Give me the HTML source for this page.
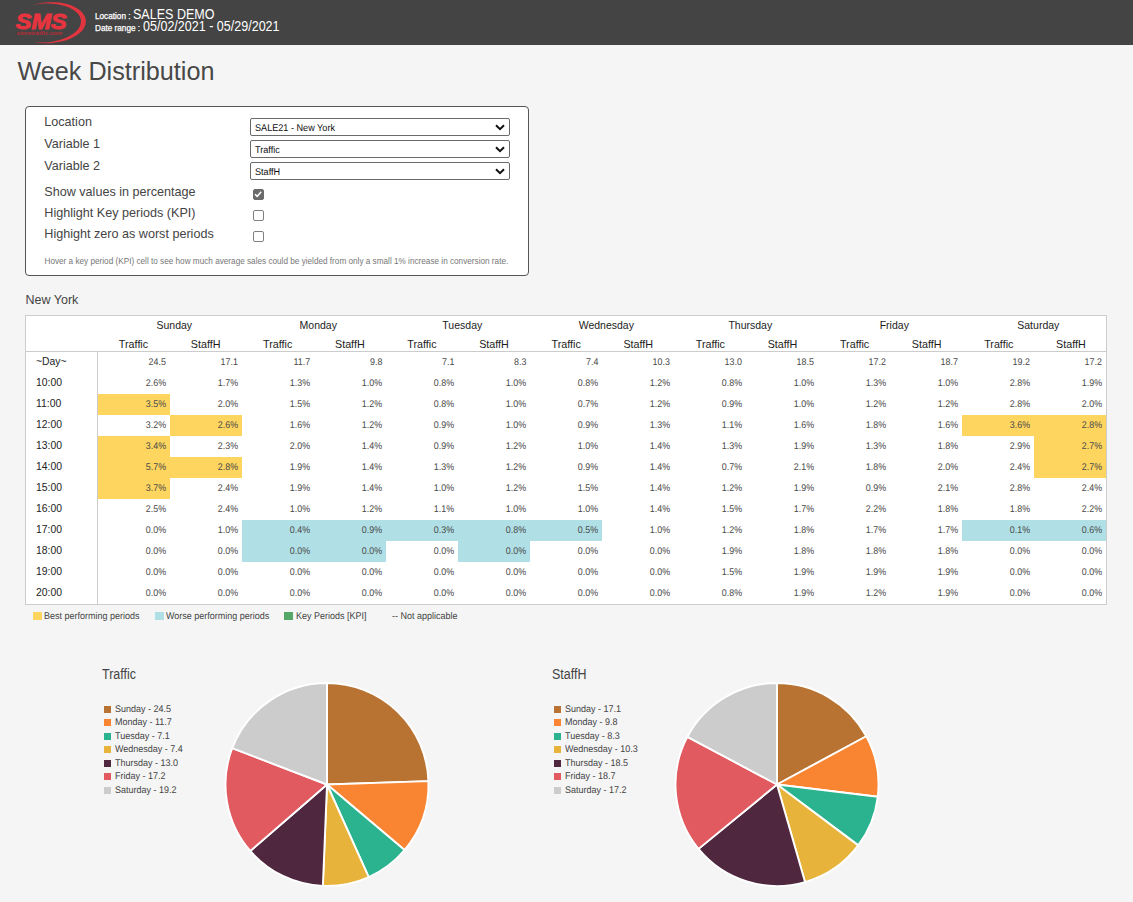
<!DOCTYPE html>
<html>
<head>
<meta charset="utf-8">
<title>Week Distribution</title>
<style>
html,body{margin:0;padding:0;}
body{width:1133px;height:902px;overflow:hidden;background:#f5f5f5;font-family:"Liberation Sans",sans-serif;position:relative;color:#444;}
div{position:absolute;box-sizing:border-box;white-space:nowrap;}
.hdr{left:0;top:0;width:1133px;height:45px;background:#444444;}
.hs{color:#fff;font-size:8.2px;-webkit-text-stroke:0.25px #fff;}
.hb{color:#fff;font-size:14px;line-height:15px;transform:scaleX(0.895);transform-origin:0 0;}
.title{left:17.5px;top:56px;font-size:25.2px;line-height:30px;color:#484848;}
.box{left:25px;top:106px;width:504px;height:170px;border:1px solid #555;border-radius:4px;background:#fff;}
.lab{left:44.3px;font-size:12.6px;color:#444;line-height:16px;}
.sel{left:250px;width:260px;height:18px;border:1px solid #6a6a6a;border-radius:2px;background:#fff;font-size:9.8px;color:#111;line-height:16px;padding-left:4.4px;padding-top:2px;text-rendering:geometricPrecision;}
.sel span{display:inline-block;transform:scaleX(0.93);transform-origin:0 50%;}
.sel svg{position:absolute;right:4px;top:4.6px;}
.cb{left:253px;width:10.5px;height:10.5px;border:1px solid #808080;border-radius:2px;background:#fff;}
.cb.on{background:#6b6b6b;border-color:#6b6b6b;}
.hint{left:44.5px;top:256.5px;font-size:8.2px;color:#777;line-height:9px;}
.ny{left:25.5px;top:292.5px;font-size:12.5px;color:#444;line-height:14px;}
.tbl{border:1px solid #ccc;background:#fff;}
.dh{text-align:center;font-size:10.5px;color:#1c1c1c;}
.vh{text-align:center;font-size:10.75px;color:#1c1c1c;}
.hl{height:1px;background:#ccc;}
.vl{width:1px;background:#ccc;}
.rl{padding-left:10px;font-size:10.4px;color:#222;}
.cv{text-align:right;padding-right:4px;font-size:9.7px;color:#4a4a4a;text-rendering:geometricPrecision;}
.cv span{display:inline-block;transform:scaleX(0.918);transform-origin:100% 50%;}
.tl{top:612.2px;font-size:9.7px;color:#444;line-height:10px;text-rendering:geometricPrecision;transform:scaleX(0.928);transform-origin:0 0;}
.tsq{top:612px;width:8.8px;height:8px;margin-left:-0.3px;}
.ct{top:666px;font-size:14px;color:#444;line-height:16px;transform:scaleX(0.89);transform-origin:0 0;}
.lsq{width:7px;height:7px;}
.ltx{font-size:9.7px;color:#444;line-height:14px;text-rendering:geometricPrecision;transform:scaleX(0.928);transform-origin:0 0;}
</style>
</head>
<body>
<div class="hdr"></div>
<svg style="position:absolute;left:0;top:0" width="100" height="46" viewBox="0 0 100 46">
  <g transform="rotate(-3 49 22.7)">
  <path d="M33 4.2A37 20.5 0 1 1 33 41.2A36.5 19.5 0 1 0 33 4.2Z" fill="#e23540"/>
  </g>
  <text x="15.8" y="29.4" font-family="Liberation Sans, sans-serif" font-weight="bold" font-style="italic" font-size="21.8" fill="#e8343f" stroke="#e8343f" stroke-width="0.9" textLength="51" lengthAdjust="spacingAndGlyphs">SMS</text>
  <text x="16.5" y="35.3" font-family="Liberation Sans, sans-serif" font-weight="bold" font-style="italic" font-size="5.6" fill="#b52c36" textLength="46" lengthAdjust="spacingAndGlyphs">storetraffic.com</text>
</svg>
<div class="hs" style="left:95px;top:12.3px;">Location :</div>
<div class="hb" style="left:133px;top:7.4px;">SALES DEMO</div>
<div class="hs" style="left:95px;top:24.3px;">Date range :</div>
<div class="hb" style="left:143px;top:18.9px;">05/02/2021 - 05/29/2021</div>

<div class="title">Week Distribution</div>

<div class="box"></div>
<div class="lab" style="top:114px">Location</div>
<div class="lab" style="top:136px">Variable 1</div>
<div class="lab" style="top:157.5px">Variable 2</div>
<div class="lab" style="top:184px">Show values in percentage</div>
<div class="lab" style="top:205px">Highlight Key periods (KPI)</div>
<div class="lab" style="top:226px">Highight zero as worst periods</div>
<div class="sel" style="top:118px"><span>SALE21 - New York</span><svg width="10" height="7" viewBox="0 0 10 7"><path d="M1 1.2L5 5.2L9 1.2" fill="none" stroke="#111" stroke-width="2"/></svg></div>
<div class="sel" style="top:140px"><span>Traffic</span><svg width="10" height="7" viewBox="0 0 10 7"><path d="M1 1.2L5 5.2L9 1.2" fill="none" stroke="#111" stroke-width="2"/></svg></div>
<div class="sel" style="top:162px"><span>StaffH</span><svg width="10" height="7" viewBox="0 0 10 7"><path d="M1 1.2L5 5.2L9 1.2" fill="none" stroke="#111" stroke-width="2"/></svg></div>
<div class="cb on" style="top:189px"><svg width="10" height="10" viewBox="0 0 10 10" style="position:absolute;left:-1px;top:-1px"><path d="M2 5.2L4.2 7.4L8.2 2.8" fill="none" stroke="#fff" stroke-width="1.6"/></svg></div>
<div class="cb" style="top:210px"></div>
<div class="cb" style="top:231px"></div>
<div class="hint">Hover a key period (KPI) cell to see how much average sales could be yielded from only a small 1% increase in conversion rate.</div>

<div class="ny">New York</div>
<div class="tbl" style="left:25px;top:315px;width:1082.00px;height:290px"></div>
<div class="dh" style="left:102.30px;top:316px;width:144.00px;height:19px;line-height:19px">Sunday</div>
<div class="vh" style="left:97.50px;top:336.3px;width:72.00px;height:16px;line-height:16px">Traffic</div>
<div class="vh" style="left:169.61px;top:336.3px;width:72.00px;height:16px;line-height:16px">StaffH</div>
<div class="dh" style="left:246.30px;top:316px;width:144.00px;height:19px;line-height:19px">Monday</div>
<div class="vh" style="left:241.72px;top:336.3px;width:72.00px;height:16px;line-height:16px">Traffic</div>
<div class="vh" style="left:313.82px;top:336.3px;width:72.00px;height:16px;line-height:16px">StaffH</div>
<div class="dh" style="left:390.30px;top:316px;width:144.00px;height:19px;line-height:19px">Tuesday</div>
<div class="vh" style="left:385.93px;top:336.3px;width:72.00px;height:16px;line-height:16px">Traffic</div>
<div class="vh" style="left:458.04px;top:336.3px;width:72.00px;height:16px;line-height:16px">StaffH</div>
<div class="dh" style="left:534.30px;top:316px;width:144.00px;height:19px;line-height:19px">Wednesday</div>
<div class="vh" style="left:530.15px;top:336.3px;width:72.00px;height:16px;line-height:16px">Traffic</div>
<div class="vh" style="left:602.25px;top:336.3px;width:72.00px;height:16px;line-height:16px">StaffH</div>
<div class="dh" style="left:678.30px;top:316px;width:144.00px;height:19px;line-height:19px">Thursday</div>
<div class="vh" style="left:674.36px;top:336.3px;width:72.00px;height:16px;line-height:16px">Traffic</div>
<div class="vh" style="left:746.47px;top:336.3px;width:72.00px;height:16px;line-height:16px">StaffH</div>
<div class="dh" style="left:822.30px;top:316px;width:144.00px;height:19px;line-height:19px">Friday</div>
<div class="vh" style="left:818.58px;top:336.3px;width:72.00px;height:16px;line-height:16px">Traffic</div>
<div class="vh" style="left:890.68px;top:336.3px;width:72.00px;height:16px;line-height:16px">StaffH</div>
<div class="dh" style="left:966.30px;top:316px;width:144.00px;height:19px;line-height:19px">Saturday</div>
<div class="vh" style="left:962.79px;top:336.3px;width:72.00px;height:16px;line-height:16px">Traffic</div>
<div class="vh" style="left:1034.90px;top:336.3px;width:72.00px;height:16px;line-height:16px">StaffH</div>
<div class="hl" style="left:26px;top:351px;width:1080.00px"></div>
<div class="vl" style="left:97px;top:351px;height:254px"></div>
<div class="rl" style="left:26px;top:351.1px;width:71px;height:21px;line-height:21px">~Day~</div>
<div class="cv" style="left:98px;top:352px;width:72px;height:21px;line-height:21px;"><span>24.5</span></div>
<div class="cv" style="left:170px;top:352px;width:72px;height:21px;line-height:21px;"><span>17.1</span></div>
<div class="cv" style="left:242px;top:352px;width:72px;height:21px;line-height:21px;"><span>11.7</span></div>
<div class="cv" style="left:314px;top:352px;width:72px;height:21px;line-height:21px;"><span>9.8</span></div>
<div class="cv" style="left:386px;top:352px;width:72px;height:21px;line-height:21px;"><span>7.1</span></div>
<div class="cv" style="left:458px;top:352px;width:72px;height:21px;line-height:21px;"><span>8.3</span></div>
<div class="cv" style="left:530px;top:352px;width:72px;height:21px;line-height:21px;"><span>7.4</span></div>
<div class="cv" style="left:602px;top:352px;width:72px;height:21px;line-height:21px;"><span>10.3</span></div>
<div class="cv" style="left:674px;top:352px;width:72px;height:21px;line-height:21px;"><span>13.0</span></div>
<div class="cv" style="left:746px;top:352px;width:72px;height:21px;line-height:21px;"><span>18.5</span></div>
<div class="cv" style="left:818px;top:352px;width:72px;height:21px;line-height:21px;"><span>17.2</span></div>
<div class="cv" style="left:890px;top:352px;width:72px;height:21px;line-height:21px;"><span>18.7</span></div>
<div class="cv" style="left:962px;top:352px;width:72px;height:21px;line-height:21px;"><span>19.2</span></div>
<div class="cv" style="left:1034px;top:352px;width:72px;height:21px;line-height:21px;"><span>17.2</span></div>
<div class="rl" style="left:26px;top:372.1px;width:71px;height:21px;line-height:21px">10:00</div>
<div class="cv" style="left:98px;top:373px;width:72px;height:21px;line-height:21px;"><span>2.6%</span></div>
<div class="cv" style="left:170px;top:373px;width:72px;height:21px;line-height:21px;"><span>1.7%</span></div>
<div class="cv" style="left:242px;top:373px;width:72px;height:21px;line-height:21px;"><span>1.3%</span></div>
<div class="cv" style="left:314px;top:373px;width:72px;height:21px;line-height:21px;"><span>1.0%</span></div>
<div class="cv" style="left:386px;top:373px;width:72px;height:21px;line-height:21px;"><span>0.8%</span></div>
<div class="cv" style="left:458px;top:373px;width:72px;height:21px;line-height:21px;"><span>1.0%</span></div>
<div class="cv" style="left:530px;top:373px;width:72px;height:21px;line-height:21px;"><span>0.8%</span></div>
<div class="cv" style="left:602px;top:373px;width:72px;height:21px;line-height:21px;"><span>1.2%</span></div>
<div class="cv" style="left:674px;top:373px;width:72px;height:21px;line-height:21px;"><span>0.8%</span></div>
<div class="cv" style="left:746px;top:373px;width:72px;height:21px;line-height:21px;"><span>1.0%</span></div>
<div class="cv" style="left:818px;top:373px;width:72px;height:21px;line-height:21px;"><span>1.3%</span></div>
<div class="cv" style="left:890px;top:373px;width:72px;height:21px;line-height:21px;"><span>1.0%</span></div>
<div class="cv" style="left:962px;top:373px;width:72px;height:21px;line-height:21px;"><span>2.8%</span></div>
<div class="cv" style="left:1034px;top:373px;width:72px;height:21px;line-height:21px;"><span>1.9%</span></div>
<div class="rl" style="left:26px;top:393.1px;width:71px;height:21px;line-height:21px">11:00</div>
<div class="cv" style="left:98px;top:394px;width:72px;height:21px;line-height:21px;background:#fdd55f;"><span>3.5%</span></div>
<div class="cv" style="left:170px;top:394px;width:72px;height:21px;line-height:21px;"><span>2.0%</span></div>
<div class="cv" style="left:242px;top:394px;width:72px;height:21px;line-height:21px;"><span>1.5%</span></div>
<div class="cv" style="left:314px;top:394px;width:72px;height:21px;line-height:21px;"><span>1.2%</span></div>
<div class="cv" style="left:386px;top:394px;width:72px;height:21px;line-height:21px;"><span>0.8%</span></div>
<div class="cv" style="left:458px;top:394px;width:72px;height:21px;line-height:21px;"><span>1.0%</span></div>
<div class="cv" style="left:530px;top:394px;width:72px;height:21px;line-height:21px;"><span>0.7%</span></div>
<div class="cv" style="left:602px;top:394px;width:72px;height:21px;line-height:21px;"><span>1.2%</span></div>
<div class="cv" style="left:674px;top:394px;width:72px;height:21px;line-height:21px;"><span>0.9%</span></div>
<div class="cv" style="left:746px;top:394px;width:72px;height:21px;line-height:21px;"><span>1.0%</span></div>
<div class="cv" style="left:818px;top:394px;width:72px;height:21px;line-height:21px;"><span>1.2%</span></div>
<div class="cv" style="left:890px;top:394px;width:72px;height:21px;line-height:21px;"><span>1.2%</span></div>
<div class="cv" style="left:962px;top:394px;width:72px;height:21px;line-height:21px;"><span>2.8%</span></div>
<div class="cv" style="left:1034px;top:394px;width:72px;height:21px;line-height:21px;"><span>2.0%</span></div>
<div class="rl" style="left:26px;top:414.1px;width:71px;height:21px;line-height:21px">12:00</div>
<div class="cv" style="left:98px;top:415px;width:72px;height:21px;line-height:21px;"><span>3.2%</span></div>
<div class="cv" style="left:170px;top:415px;width:72px;height:21px;line-height:21px;background:#fdd55f;"><span>2.6%</span></div>
<div class="cv" style="left:242px;top:415px;width:72px;height:21px;line-height:21px;"><span>1.6%</span></div>
<div class="cv" style="left:314px;top:415px;width:72px;height:21px;line-height:21px;"><span>1.2%</span></div>
<div class="cv" style="left:386px;top:415px;width:72px;height:21px;line-height:21px;"><span>0.9%</span></div>
<div class="cv" style="left:458px;top:415px;width:72px;height:21px;line-height:21px;"><span>1.0%</span></div>
<div class="cv" style="left:530px;top:415px;width:72px;height:21px;line-height:21px;"><span>0.9%</span></div>
<div class="cv" style="left:602px;top:415px;width:72px;height:21px;line-height:21px;"><span>1.3%</span></div>
<div class="cv" style="left:674px;top:415px;width:72px;height:21px;line-height:21px;"><span>1.1%</span></div>
<div class="cv" style="left:746px;top:415px;width:72px;height:21px;line-height:21px;"><span>1.6%</span></div>
<div class="cv" style="left:818px;top:415px;width:72px;height:21px;line-height:21px;"><span>1.8%</span></div>
<div class="cv" style="left:890px;top:415px;width:72px;height:21px;line-height:21px;"><span>1.6%</span></div>
<div class="cv" style="left:962px;top:415px;width:72px;height:21px;line-height:21px;background:#fdd55f;"><span>3.6%</span></div>
<div class="cv" style="left:1034px;top:415px;width:72px;height:21px;line-height:21px;background:#fdd55f;"><span>2.8%</span></div>
<div class="rl" style="left:26px;top:435.1px;width:71px;height:21px;line-height:21px">13:00</div>
<div class="cv" style="left:98px;top:436px;width:72px;height:21px;line-height:21px;background:#fdd55f;"><span>3.4%</span></div>
<div class="cv" style="left:170px;top:436px;width:72px;height:21px;line-height:21px;"><span>2.3%</span></div>
<div class="cv" style="left:242px;top:436px;width:72px;height:21px;line-height:21px;"><span>2.0%</span></div>
<div class="cv" style="left:314px;top:436px;width:72px;height:21px;line-height:21px;"><span>1.4%</span></div>
<div class="cv" style="left:386px;top:436px;width:72px;height:21px;line-height:21px;"><span>0.9%</span></div>
<div class="cv" style="left:458px;top:436px;width:72px;height:21px;line-height:21px;"><span>1.2%</span></div>
<div class="cv" style="left:530px;top:436px;width:72px;height:21px;line-height:21px;"><span>1.0%</span></div>
<div class="cv" style="left:602px;top:436px;width:72px;height:21px;line-height:21px;"><span>1.4%</span></div>
<div class="cv" style="left:674px;top:436px;width:72px;height:21px;line-height:21px;"><span>1.3%</span></div>
<div class="cv" style="left:746px;top:436px;width:72px;height:21px;line-height:21px;"><span>1.9%</span></div>
<div class="cv" style="left:818px;top:436px;width:72px;height:21px;line-height:21px;"><span>1.3%</span></div>
<div class="cv" style="left:890px;top:436px;width:72px;height:21px;line-height:21px;"><span>1.8%</span></div>
<div class="cv" style="left:962px;top:436px;width:72px;height:21px;line-height:21px;"><span>2.9%</span></div>
<div class="cv" style="left:1034px;top:436px;width:72px;height:21px;line-height:21px;background:#fdd55f;"><span>2.7%</span></div>
<div class="rl" style="left:26px;top:456.1px;width:71px;height:21px;line-height:21px">14:00</div>
<div class="cv" style="left:98px;top:457px;width:72px;height:21px;line-height:21px;background:#fdd55f;"><span>5.7%</span></div>
<div class="cv" style="left:170px;top:457px;width:72px;height:21px;line-height:21px;background:#fdd55f;"><span>2.8%</span></div>
<div class="cv" style="left:242px;top:457px;width:72px;height:21px;line-height:21px;"><span>1.9%</span></div>
<div class="cv" style="left:314px;top:457px;width:72px;height:21px;line-height:21px;"><span>1.4%</span></div>
<div class="cv" style="left:386px;top:457px;width:72px;height:21px;line-height:21px;"><span>1.3%</span></div>
<div class="cv" style="left:458px;top:457px;width:72px;height:21px;line-height:21px;"><span>1.2%</span></div>
<div class="cv" style="left:530px;top:457px;width:72px;height:21px;line-height:21px;"><span>0.9%</span></div>
<div class="cv" style="left:602px;top:457px;width:72px;height:21px;line-height:21px;"><span>1.4%</span></div>
<div class="cv" style="left:674px;top:457px;width:72px;height:21px;line-height:21px;"><span>0.7%</span></div>
<div class="cv" style="left:746px;top:457px;width:72px;height:21px;line-height:21px;"><span>2.1%</span></div>
<div class="cv" style="left:818px;top:457px;width:72px;height:21px;line-height:21px;"><span>1.8%</span></div>
<div class="cv" style="left:890px;top:457px;width:72px;height:21px;line-height:21px;"><span>2.0%</span></div>
<div class="cv" style="left:962px;top:457px;width:72px;height:21px;line-height:21px;"><span>2.4%</span></div>
<div class="cv" style="left:1034px;top:457px;width:72px;height:21px;line-height:21px;background:#fdd55f;"><span>2.7%</span></div>
<div class="rl" style="left:26px;top:477.1px;width:71px;height:21px;line-height:21px">15:00</div>
<div class="cv" style="left:98px;top:478px;width:72px;height:21px;line-height:21px;background:#fdd55f;"><span>3.7%</span></div>
<div class="cv" style="left:170px;top:478px;width:72px;height:21px;line-height:21px;"><span>2.4%</span></div>
<div class="cv" style="left:242px;top:478px;width:72px;height:21px;line-height:21px;"><span>1.9%</span></div>
<div class="cv" style="left:314px;top:478px;width:72px;height:21px;line-height:21px;"><span>1.4%</span></div>
<div class="cv" style="left:386px;top:478px;width:72px;height:21px;line-height:21px;"><span>1.0%</span></div>
<div class="cv" style="left:458px;top:478px;width:72px;height:21px;line-height:21px;"><span>1.2%</span></div>
<div class="cv" style="left:530px;top:478px;width:72px;height:21px;line-height:21px;"><span>1.5%</span></div>
<div class="cv" style="left:602px;top:478px;width:72px;height:21px;line-height:21px;"><span>1.4%</span></div>
<div class="cv" style="left:674px;top:478px;width:72px;height:21px;line-height:21px;"><span>1.2%</span></div>
<div class="cv" style="left:746px;top:478px;width:72px;height:21px;line-height:21px;"><span>1.9%</span></div>
<div class="cv" style="left:818px;top:478px;width:72px;height:21px;line-height:21px;"><span>0.9%</span></div>
<div class="cv" style="left:890px;top:478px;width:72px;height:21px;line-height:21px;"><span>2.1%</span></div>
<div class="cv" style="left:962px;top:478px;width:72px;height:21px;line-height:21px;"><span>2.8%</span></div>
<div class="cv" style="left:1034px;top:478px;width:72px;height:21px;line-height:21px;"><span>2.4%</span></div>
<div class="rl" style="left:26px;top:498.1px;width:71px;height:21px;line-height:21px">16:00</div>
<div class="cv" style="left:98px;top:499px;width:72px;height:21px;line-height:21px;"><span>2.5%</span></div>
<div class="cv" style="left:170px;top:499px;width:72px;height:21px;line-height:21px;"><span>2.4%</span></div>
<div class="cv" style="left:242px;top:499px;width:72px;height:21px;line-height:21px;"><span>1.0%</span></div>
<div class="cv" style="left:314px;top:499px;width:72px;height:21px;line-height:21px;"><span>1.2%</span></div>
<div class="cv" style="left:386px;top:499px;width:72px;height:21px;line-height:21px;"><span>1.1%</span></div>
<div class="cv" style="left:458px;top:499px;width:72px;height:21px;line-height:21px;"><span>1.0%</span></div>
<div class="cv" style="left:530px;top:499px;width:72px;height:21px;line-height:21px;"><span>1.0%</span></div>
<div class="cv" style="left:602px;top:499px;width:72px;height:21px;line-height:21px;"><span>1.4%</span></div>
<div class="cv" style="left:674px;top:499px;width:72px;height:21px;line-height:21px;"><span>1.5%</span></div>
<div class="cv" style="left:746px;top:499px;width:72px;height:21px;line-height:21px;"><span>1.7%</span></div>
<div class="cv" style="left:818px;top:499px;width:72px;height:21px;line-height:21px;"><span>2.2%</span></div>
<div class="cv" style="left:890px;top:499px;width:72px;height:21px;line-height:21px;"><span>1.8%</span></div>
<div class="cv" style="left:962px;top:499px;width:72px;height:21px;line-height:21px;"><span>1.8%</span></div>
<div class="cv" style="left:1034px;top:499px;width:72px;height:21px;line-height:21px;"><span>2.2%</span></div>
<div class="rl" style="left:26px;top:519.1px;width:71px;height:21px;line-height:21px">17:00</div>
<div class="cv" style="left:98px;top:520px;width:72px;height:21px;line-height:21px;"><span>0.0%</span></div>
<div class="cv" style="left:170px;top:520px;width:72px;height:21px;line-height:21px;"><span>1.0%</span></div>
<div class="cv" style="left:242px;top:520px;width:72px;height:21px;line-height:21px;background:#b0e0e6;"><span>0.4%</span></div>
<div class="cv" style="left:314px;top:520px;width:72px;height:21px;line-height:21px;background:#b0e0e6;"><span>0.9%</span></div>
<div class="cv" style="left:386px;top:520px;width:72px;height:21px;line-height:21px;background:#b0e0e6;"><span>0.3%</span></div>
<div class="cv" style="left:458px;top:520px;width:72px;height:21px;line-height:21px;background:#b0e0e6;"><span>0.8%</span></div>
<div class="cv" style="left:530px;top:520px;width:72px;height:21px;line-height:21px;background:#b0e0e6;"><span>0.5%</span></div>
<div class="cv" style="left:602px;top:520px;width:72px;height:21px;line-height:21px;"><span>1.0%</span></div>
<div class="cv" style="left:674px;top:520px;width:72px;height:21px;line-height:21px;"><span>1.2%</span></div>
<div class="cv" style="left:746px;top:520px;width:72px;height:21px;line-height:21px;"><span>1.8%</span></div>
<div class="cv" style="left:818px;top:520px;width:72px;height:21px;line-height:21px;"><span>1.7%</span></div>
<div class="cv" style="left:890px;top:520px;width:72px;height:21px;line-height:21px;"><span>1.7%</span></div>
<div class="cv" style="left:962px;top:520px;width:72px;height:21px;line-height:21px;background:#b0e0e6;"><span>0.1%</span></div>
<div class="cv" style="left:1034px;top:520px;width:72px;height:21px;line-height:21px;background:#b0e0e6;"><span>0.6%</span></div>
<div class="rl" style="left:26px;top:540.1px;width:71px;height:21px;line-height:21px">18:00</div>
<div class="cv" style="left:98px;top:541px;width:72px;height:21px;line-height:21px;"><span>0.0%</span></div>
<div class="cv" style="left:170px;top:541px;width:72px;height:21px;line-height:21px;"><span>0.0%</span></div>
<div class="cv" style="left:242px;top:541px;width:72px;height:21px;line-height:21px;background:#b0e0e6;"><span>0.0%</span></div>
<div class="cv" style="left:314px;top:541px;width:72px;height:21px;line-height:21px;background:#b0e0e6;"><span>0.0%</span></div>
<div class="cv" style="left:386px;top:541px;width:72px;height:21px;line-height:21px;"><span>0.0%</span></div>
<div class="cv" style="left:458px;top:541px;width:72px;height:21px;line-height:21px;background:#b0e0e6;"><span>0.0%</span></div>
<div class="cv" style="left:530px;top:541px;width:72px;height:21px;line-height:21px;"><span>0.0%</span></div>
<div class="cv" style="left:602px;top:541px;width:72px;height:21px;line-height:21px;"><span>0.0%</span></div>
<div class="cv" style="left:674px;top:541px;width:72px;height:21px;line-height:21px;"><span>1.9%</span></div>
<div class="cv" style="left:746px;top:541px;width:72px;height:21px;line-height:21px;"><span>1.8%</span></div>
<div class="cv" style="left:818px;top:541px;width:72px;height:21px;line-height:21px;"><span>1.8%</span></div>
<div class="cv" style="left:890px;top:541px;width:72px;height:21px;line-height:21px;"><span>1.8%</span></div>
<div class="cv" style="left:962px;top:541px;width:72px;height:21px;line-height:21px;"><span>0.0%</span></div>
<div class="cv" style="left:1034px;top:541px;width:72px;height:21px;line-height:21px;"><span>0.0%</span></div>
<div class="rl" style="left:26px;top:561.1px;width:71px;height:21px;line-height:21px">19:00</div>
<div class="cv" style="left:98px;top:562px;width:72px;height:21px;line-height:21px;"><span>0.0%</span></div>
<div class="cv" style="left:170px;top:562px;width:72px;height:21px;line-height:21px;"><span>0.0%</span></div>
<div class="cv" style="left:242px;top:562px;width:72px;height:21px;line-height:21px;"><span>0.0%</span></div>
<div class="cv" style="left:314px;top:562px;width:72px;height:21px;line-height:21px;"><span>0.0%</span></div>
<div class="cv" style="left:386px;top:562px;width:72px;height:21px;line-height:21px;"><span>0.0%</span></div>
<div class="cv" style="left:458px;top:562px;width:72px;height:21px;line-height:21px;"><span>0.0%</span></div>
<div class="cv" style="left:530px;top:562px;width:72px;height:21px;line-height:21px;"><span>0.0%</span></div>
<div class="cv" style="left:602px;top:562px;width:72px;height:21px;line-height:21px;"><span>0.0%</span></div>
<div class="cv" style="left:674px;top:562px;width:72px;height:21px;line-height:21px;"><span>1.5%</span></div>
<div class="cv" style="left:746px;top:562px;width:72px;height:21px;line-height:21px;"><span>1.9%</span></div>
<div class="cv" style="left:818px;top:562px;width:72px;height:21px;line-height:21px;"><span>1.9%</span></div>
<div class="cv" style="left:890px;top:562px;width:72px;height:21px;line-height:21px;"><span>1.9%</span></div>
<div class="cv" style="left:962px;top:562px;width:72px;height:21px;line-height:21px;"><span>0.0%</span></div>
<div class="cv" style="left:1034px;top:562px;width:72px;height:21px;line-height:21px;"><span>0.0%</span></div>
<div class="rl" style="left:26px;top:582.1px;width:71px;height:21px;line-height:21px">20:00</div>
<div class="cv" style="left:98px;top:583px;width:72px;height:21px;line-height:21px;"><span>0.0%</span></div>
<div class="cv" style="left:170px;top:583px;width:72px;height:21px;line-height:21px;"><span>0.0%</span></div>
<div class="cv" style="left:242px;top:583px;width:72px;height:21px;line-height:21px;"><span>0.0%</span></div>
<div class="cv" style="left:314px;top:583px;width:72px;height:21px;line-height:21px;"><span>0.0%</span></div>
<div class="cv" style="left:386px;top:583px;width:72px;height:21px;line-height:21px;"><span>0.0%</span></div>
<div class="cv" style="left:458px;top:583px;width:72px;height:21px;line-height:21px;"><span>0.0%</span></div>
<div class="cv" style="left:530px;top:583px;width:72px;height:21px;line-height:21px;"><span>0.0%</span></div>
<div class="cv" style="left:602px;top:583px;width:72px;height:21px;line-height:21px;"><span>0.0%</span></div>
<div class="cv" style="left:674px;top:583px;width:72px;height:21px;line-height:21px;"><span>0.8%</span></div>
<div class="cv" style="left:746px;top:583px;width:72px;height:21px;line-height:21px;"><span>1.9%</span></div>
<div class="cv" style="left:818px;top:583px;width:72px;height:21px;line-height:21px;"><span>1.2%</span></div>
<div class="cv" style="left:890px;top:583px;width:72px;height:21px;line-height:21px;"><span>1.9%</span></div>
<div class="cv" style="left:962px;top:583px;width:72px;height:21px;line-height:21px;"><span>0.0%</span></div>
<div class="cv" style="left:1034px;top:583px;width:72px;height:21px;line-height:21px;"><span>0.0%</span></div>

<div class="tsq" style="left:33px;background:#fdd55f"></div><div class="tl" style="left:44px">Best performing periods</div>
<div class="tsq" style="left:155px;background:#b0e0e6"></div><div class="tl" style="left:166px">Worse performing periods</div>
<div class="tsq" style="left:284px;background:#55a868"></div><div class="tl" style="left:296px">Key Periods [KPI]</div>
<div class="tl" style="left:392px">-- Not applicable</div>

<div class="ct" style="left:102px">Traffic</div>
<div class="ct" style="left:552px">StaffH</div>
<div class="lsq" style="left:104px;top:706.0px;background:#b87333"></div><div class="ltx" style="left:114.7px;top:703.1px">Sunday - 24.5</div>
<div class="lsq" style="left:104px;top:719.0px;background:#f98532"></div><div class="ltx" style="left:114.7px;top:716.1px">Monday - 11.7</div>
<div class="lsq" style="left:104px;top:733.0px;background:#2bb38f"></div><div class="ltx" style="left:114.7px;top:730.1px">Tuesday - 7.1</div>
<div class="lsq" style="left:104px;top:746.0px;background:#e8b33a"></div><div class="ltx" style="left:114.7px;top:743.1px">Wednesday - 7.4</div>
<div class="lsq" style="left:104px;top:760.0px;background:#4f273e"></div><div class="ltx" style="left:114.7px;top:757.1px">Thursday - 13.0</div>
<div class="lsq" style="left:104px;top:773.0px;background:#e15a60"></div><div class="ltx" style="left:114.7px;top:770.1px">Friday - 17.2</div>
<div class="lsq" style="left:104px;top:787.0px;background:#cccccc"></div><div class="ltx" style="left:114.7px;top:784.1px">Saturday - 19.2</div>
<div class="lsq" style="left:554px;top:706.0px;background:#b87333"></div><div class="ltx" style="left:564.7px;top:703.1px">Sunday - 17.1</div>
<div class="lsq" style="left:554px;top:719.0px;background:#f98532"></div><div class="ltx" style="left:564.7px;top:716.1px">Monday - 9.8</div>
<div class="lsq" style="left:554px;top:733.0px;background:#2bb38f"></div><div class="ltx" style="left:564.7px;top:730.1px">Tuesday - 8.3</div>
<div class="lsq" style="left:554px;top:746.0px;background:#e8b33a"></div><div class="ltx" style="left:564.7px;top:743.1px">Wednesday - 10.3</div>
<div class="lsq" style="left:554px;top:760.0px;background:#4f273e"></div><div class="ltx" style="left:564.7px;top:757.1px">Thursday - 18.5</div>
<div class="lsq" style="left:554px;top:773.0px;background:#e15a60"></div><div class="ltx" style="left:564.7px;top:770.1px">Friday - 18.7</div>
<div class="lsq" style="left:554px;top:787.0px;background:#cccccc"></div><div class="ltx" style="left:564.7px;top:784.1px">Saturday - 17.2</div>
<svg style="position:absolute;left:0;top:640px" width="1133" height="262" viewBox="0 640 1133 262">
<path d="M327 784.5L327.00 683.00A101.5 101.5 0 0 1 428.44 781.16Z" fill="#b87333" stroke="#fff" stroke-width="1.9" stroke-linejoin="round"/>
<path d="M327 784.5L428.44 781.16A101.5 101.5 0 0 1 404.54 850.00Z" fill="#f98532" stroke="#fff" stroke-width="1.9" stroke-linejoin="round"/>
<path d="M327 784.5L404.54 850.00A101.5 101.5 0 0 1 368.73 877.03Z" fill="#2bb38f" stroke="#fff" stroke-width="1.9" stroke-linejoin="round"/>
<path d="M327 784.5L368.73 877.03A101.5 101.5 0 0 1 322.86 885.92Z" fill="#e8b33a" stroke="#fff" stroke-width="1.9" stroke-linejoin="round"/>
<path d="M327 784.5L322.86 885.92A101.5 101.5 0 0 1 250.29 850.97Z" fill="#4f273e" stroke="#fff" stroke-width="1.9" stroke-linejoin="round"/>
<path d="M327 784.5L250.29 850.97A101.5 101.5 0 0 1 232.21 748.21Z" fill="#e15a60" stroke="#fff" stroke-width="1.9" stroke-linejoin="round"/>
<path d="M327 784.5L232.21 748.21A101.5 101.5 0 0 1 327.00 683.00Z" fill="#cccccc" stroke="#fff" stroke-width="1.9" stroke-linejoin="round"/>
<path d="M777 784.5L777.00 683.00A101.5 101.5 0 0 1 866.30 736.26Z" fill="#b87333" stroke="#fff" stroke-width="1.9" stroke-linejoin="round"/>
<path d="M777 784.5L866.30 736.26A101.5 101.5 0 0 1 877.76 796.76Z" fill="#f98532" stroke="#fff" stroke-width="1.9" stroke-linejoin="round"/>
<path d="M777 784.5L877.76 796.76A101.5 101.5 0 0 1 858.22 845.37Z" fill="#2bb38f" stroke="#fff" stroke-width="1.9" stroke-linejoin="round"/>
<path d="M777 784.5L858.22 845.37A101.5 101.5 0 0 1 805.04 882.05Z" fill="#e8b33a" stroke="#fff" stroke-width="1.9" stroke-linejoin="round"/>
<path d="M777 784.5L805.04 882.05A101.5 101.5 0 0 1 698.53 848.88Z" fill="#4f273e" stroke="#fff" stroke-width="1.9" stroke-linejoin="round"/>
<path d="M777 784.5L698.53 848.88A101.5 101.5 0 0 1 687.40 736.82Z" fill="#e15a60" stroke="#fff" stroke-width="1.9" stroke-linejoin="round"/>
<path d="M777 784.5L687.40 736.82A101.5 101.5 0 0 1 777.00 683.00Z" fill="#cccccc" stroke="#fff" stroke-width="1.9" stroke-linejoin="round"/>
</svg>
</body>
</html>
